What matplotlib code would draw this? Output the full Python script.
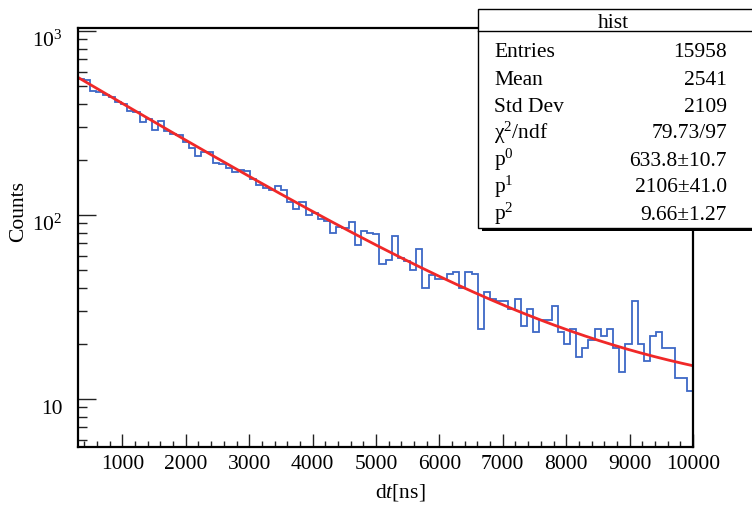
import numpy as np
import matplotlib
matplotlib.use("Agg")
import matplotlib.pyplot as plt
from matplotlib.patches import Rectangle
from matplotlib.lines import Line2D
from matplotlib.ticker import AutoMinorLocator, LogLocator, FixedLocator, NullFormatter
from matplotlib.transforms import ScaledTranslation

plt.rcParams["font.family"] = ["Liberation Serif", "DejaVu Serif"]
plt.rcParams["mathtext.fontset"] = "custom"
plt.rcParams["mathtext.rm"] = "Liberation Serif"
plt.rcParams["mathtext.it"] = "Liberation Serif:italic"

# histogram: 100 bins from 300 to 10000 ns
x_lo, x_hi, n_bins = 300, 10000, 100
counts = [548, 540, 470, 468, 451, 440, 412, 400, 366, 362,
          322, 334, 290, 326, 286, 276, 272, 248, 230, 210,
          221, 219, 192, 189, 179, 171, 176, 174, 157, 146,
          141, 136, 143, 136, 118, 108, 118, 100, 103, 95,
          93, 80, 86, 85, 91, 69, 82, 80, 79, 54,
          57, 77, 58, 56, 50, 65, 40, 47, 45, 45,
          48, 49, 40, 49, 48, 24, 38, 35, 34, 34,
          31, 35, 25, 31, 23, 27, 27, 32, 23, 20,
          24, 17, 19, 21, 24, 22, 24, 19, 14, 20,
          34, 20, 16, 22, 23, 19, 19, 13, 13, 11]

# fit parameters (p0*exp(-x/p1)+p2) and stats box entries
p0, p1, p2 = 633.8, 2106, 9.66
stat_names = ["Entries", "Mean", "Std Dev", r"$\mathregular{\chi^{2}}$/ndf",
              r"p$\mathregular{^{0}}$", r"p$\mathregular{^{1}}$", r"p$\mathregular{^{2}}$"]
stat_values = ["15958", "2541", "2109", "79.73/97",
               "633.8\u00b110.7", "2106\u00b141.0", "9.66\u00b11.27"]

W, H = 752, 506
def fx(x):
    return x / W
def fy(y):
    return 1 - y / H

fig = plt.figure(figsize=(W / 100, H / 100), dpi=100)
ax = fig.add_axes([fx(78), fy(448), (693 - 78) / W, (448 - 29) / H])

edges = np.linspace(x_lo, x_hi, n_bins + 1)
ax.stairs(counts, edges, baseline=1, color="#3d68c6", lw=1.3)

xs = np.linspace(x_lo, x_hi, 400)
ax.plot(xs, p0 * np.exp(-xs / p1) + p2, color="#f02828", lw=2)

ax.set_yscale("log")
ax.set_xlim(x_lo, x_hi)
ax.set_ylim(5.48, 1038)

ax.set_xticks(range(1000, 10001, 1000))
ax.xaxis.set_minor_locator(AutoMinorLocator(5))
ax.yaxis.set_major_locator(FixedLocator([10, 100, 1000]))
ax.set_yticklabels(["10", r"$\mathregular{10^{2}}$", r"$\mathregular{10^{3}}$"])
ax.yaxis.set_minor_locator(LogLocator(base=10, subs=range(2, 10)))
ax.yaxis.set_minor_formatter(NullFormatter())

ax.tick_params(axis="both", which="both", direction="in", top=False, right=False,
               labelsize=15.5, width=1, color="#222222")
ax.tick_params(axis="y", which="major", length=13, pad=11)
ax.tick_params(axis="y", which="minor", length=6.5)
ax.tick_params(axis="x", which="major", length=9.5, pad=5)
ax.tick_params(axis="x", which="minor", length=4.5)
for lab in ax.get_yticklabels():
    lab.set_transform(lab.get_transform() + ScaledTranslation(0, -5 / 72, fig.dpi_scale_trans))
for s in ax.spines.values():
    s.set_linewidth(1.6)

fig.text(fx(19), fy(212), "Counts", rotation=90, ha="center", va="center", fontsize=15.5)
fig.text(fx(400), fy(493), r"d$\mathit{t}$[ns]", ha="center", va="center", fontsize=15.5)

# stats box with shadow
fig.patches.append(Rectangle((fx(482), fy(232)), (800 - 482) / W, (232 - 13) / H,
                             transform=fig.transFigure, fc="black", ec="none", zorder=5))
fig.patches.append(Rectangle((fx(478), fy(229)), (800 - 478) / W, (229 - 10) / H,
                             transform=fig.transFigure, fc="white", ec="black", lw=1, zorder=6))
fig.lines.append(Line2D([fx(478), fx(760)], [fy(32), fy(32)], transform=fig.transFigure,
                        color="black", lw=1, zorder=7))
fig.text(fx(613), fy(28.5), "hist", ha="center", va="baseline", fontsize=15.5, zorder=8)
baselines = [57.3, 85, 111.7, 138.5, 165.5, 192.5, 219.5]
for name, val, b in zip(stat_names, stat_values, baselines):
    fig.text(fx(494), fy(b), name, ha="left", va="baseline", fontsize=15.5, zorder=8)
    fig.text(fx(727), fy(b), val, ha="right", va="baseline", fontsize=15.5, zorder=8)

fig.savefig("out.png", dpi=100)
